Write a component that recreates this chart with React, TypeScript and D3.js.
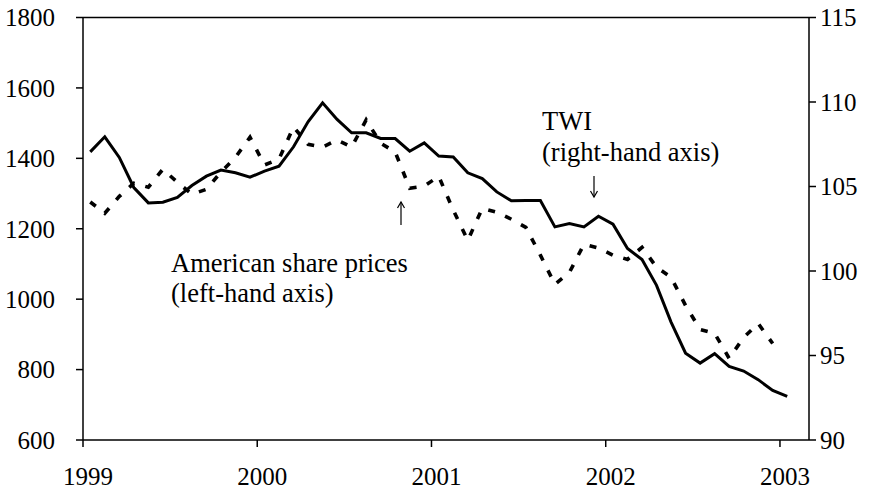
import React from "react";
import * as d3 from "d3";

// Monthly observations, Jan 1999 onwards
const twi: number[] = [
  107.05, 107.94, 106.72, 104.94, 104.03, 104.07, 104.35, 105.06, 105.61, 105.97, 105.81, 105.55,
  105.91, 106.2, 107.35, 108.83, 109.95, 108.97, 108.18, 108.18, 107.84, 107.84, 107.09, 107.58,
  106.8, 106.75, 105.81, 105.47, 104.68, 104.15, 104.17, 104.17, 102.61, 102.81, 102.61, 103.24,
  102.77, 101.33, 100.68, 99.15, 96.98, 95.14, 94.55, 95.11, 94.35, 94.08, 93.57, 92.93,
  92.58,
];

const sharePrices: number[] = [
  1276, 1244, 1292, 1329, 1318, 1369, 1332, 1298, 1312, 1361, 1403, 1460,
  1381, 1398, 1489, 1440, 1432, 1452, 1432, 1509, 1443, 1418, 1315, 1321,
  1349, 1253, 1167, 1258, 1247, 1227, 1204, 1125, 1042, 1076, 1156, 1145,
  1125, 1113, 1147, 1091, 1062, 982, 914, 903, 832, 891, 931, 874,
];

const yearLabels: string[] = ["1999", "2000", "2001", "2002", "2003"];
const leftTicks: number[] = [600, 800, 1000, 1200, 1400, 1600, 1800];
const rightTicks: number[] = [90, 95, 100, 105, 110, 115];

const W = 878;
const H = 490;
const L = 83;
const R = 809;
const T = 17.5;
const B = 440;
const FONT = "Liberation Serif";

const txt = (size: number): React.CSSProperties => ({
  fontFamily: FONT,
  fontSize: size + "px",
});

export default function App() {
  const x = d3.scaleLinear().domain([0, 50]).range([L, R]);
  const yL = d3.scaleLinear().domain([600, 1800]).range([B, T]);
  const yR = d3.scaleLinear().domain([90, 115]).range([B, T]);

  const twiLine = d3
    .line<number>()
    .x((_, i) => x(i + 0.5))
    .y((d) => yR(d));
  const spLine = d3
    .line<number>()
    .x((_, i) => x(i + 0.5))
    .y((d) => yL(d));

  const arrow = (cx: number, y1: number, y2: number) => {
    const dir = y2 > y1 ? 1 : -1;
    return (
      <g stroke="#000" strokeWidth={1.2} fill="none">
        <line x1={cx} x2={cx} y1={y1} y2={y2} />
        <path d={`M${cx - 3.5},${y2 - dir * 6} L${cx},${y2} L${cx + 3.5},${y2 - dir * 6}`} />
      </g>
    );
  };

  return (
    <svg
      width={W}
      height={H}
      style={{ position: "absolute", left: 0, top: 0, background: "#fff" }}
    >
      <rect x={0} y={0} width={W} height={H} fill="#fff" />
      {/* frame */}
      <line x1={L} x2={R} y1={T} y2={T} stroke="#000" strokeWidth={1.5} />
      <line x1={L} x2={R} y1={B} y2={B} stroke="#000" strokeWidth={1.5} />
      <line x1={L} x2={L} y1={T} y2={B} stroke="#000" strokeWidth={1.5} />
      <line x1={R} x2={R} y1={T} y2={B} stroke="#000" strokeWidth={1.5} />

      {/* left axis */}
      {leftTicks.map((t) => (
        <g key={"l" + t}>
          <line x1={L - 7} x2={L} y1={yL(t)} y2={yL(t)} stroke="#000" strokeWidth={1.5} />
          <text x={55} y={yL(t)} dy="0.35em" textAnchor="end" style={txt(25)}>
            {t}
          </text>
        </g>
      ))}
      {/* right axis */}
      {rightTicks.map((t) => (
        <g key={"r" + t}>
          <line x1={R} x2={R + 7} y1={yR(t)} y2={yR(t)} stroke="#000" strokeWidth={1.5} />
          <text x={820} y={yR(t)} dy="0.35em" textAnchor="start" style={txt(25)}>
            {t}
          </text>
        </g>
      ))}
      {/* x axis */}
      {yearLabels.map((lab, i) => (
        <g key={"x" + lab}>
          <line x1={x(i * 12)} x2={x(i * 12)} y1={B} y2={B + 7} stroke="#000" strokeWidth={1.5} />
          <text x={x(i * 12) + 5} y={485} textAnchor="middle" style={txt(25)}>
            {lab}
          </text>
        </g>
      ))}

      {/* series */}
      <path
        d={spLine(sharePrices) || ""}
        fill="none"
        stroke="#000"
        strokeWidth={3.6}
        strokeDasharray="7 11"
      />
      <path d={twiLine(twi) || ""} fill="none" stroke="#000" strokeWidth={3} strokeLinejoin="miter" />

      {/* annotations */}
      <text x={542} y={130} style={txt(26.5)}>TWI</text>
      <text x={542} y={161} style={txt(26.5)}>(right-hand axis)</text>
      {arrow(594, 176, 197)}
      <text x={171} y={272} style={txt(26.5)}>American share prices</text>
      <text x={171} y={302} style={txt(26.5)}>(left-hand axis)</text>
      {arrow(401, 225, 202)}
    </svg>
  );
}
